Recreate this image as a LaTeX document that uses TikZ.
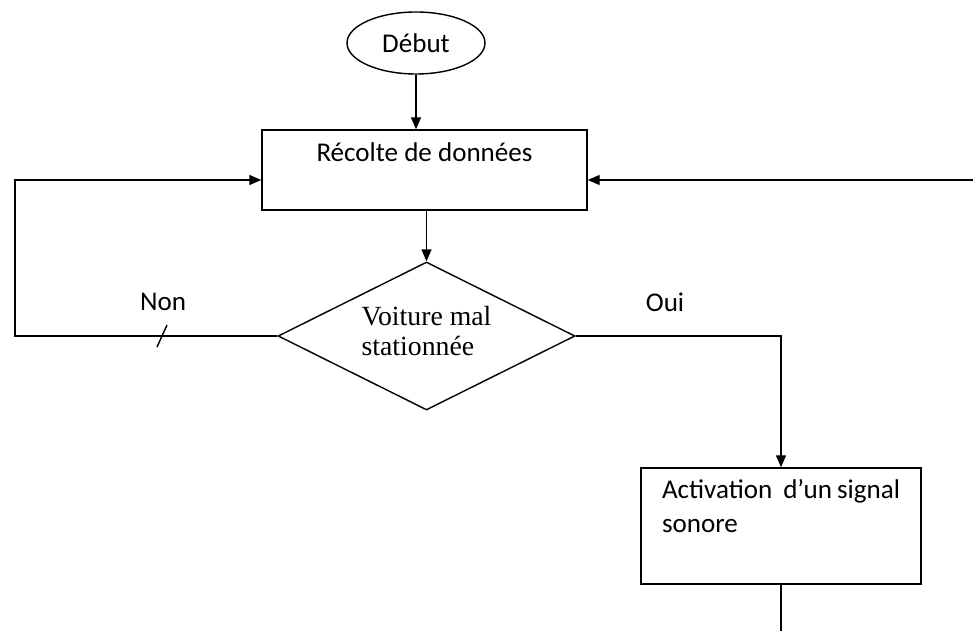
\documentclass[tikz,border=0pt]{standalone}
\usepackage{fontspec}
\setmainfont{Carlito}
\newfontfamily\timesfont{Liberation Serif}
\usetikzlibrary{shapes.geometric,arrows.meta}

\begin{document}
\begin{tikzpicture}[
  line width=0.8pt,
  fleche/.style={-{Triangle[length=0.24cm,width=0.2cm]}},
  debutbox/.style={draw, ellipse, inner sep=0pt, minimum width=2.76cm,
    minimum height=1.24cm, font=\fontsize{15.4}{18}\selectfont},
  tachebox/.style={draw, rectangle, inner sep=0pt, font=\fontsize{15.4}{19.4}\selectfont},
  testbox/.style={draw, diamond, aspect=2, inner sep=0pt, minimum width=5.94cm,
    minimum height=2.96cm, align=left, text height=0.98cm, text depth=0.22cm,
    font=\timesfont\fontsize{15.8}{17}\selectfont},
  etiquette/.style={font=\fontsize{15.4}{18}\selectfont}
]
\useasboundingbox (0,0) rectangle (19.46,-12.62);

\node[debutbox] (debut) at (8.32,-0.86) {Début};
\node[tachebox, minimum width=6.5cm, text height=0.64cm, text depth=0.96cm]
  (recolte) at (8.49,-3.4) {Récolte de données};
\node[testbox] (decision) at (8.53,-6.72) {Voiture mal\\stationnée};
\node[tachebox, inner xsep=0.42cm, text width=4.76cm, align=left,
  text height=0.6cm, text depth=1.72cm]
  (activation) at (15.62,-10.52)
  {\mbox{Activation\hspace{0.22cm}d’un\hspace{0.1cm}signal}\\sonore};

\coordinate (gauche) at (0.3,-6.72);
\coordinate (droite) at (19.46,-3.6);
\coordinate (bas) at (15.62,-12.62);

\draw[fleche] (debut.south) -- (debut.south |- recolte.north);
\draw[fleche] (recolte.south -| decision.north) -- (decision.north);
\draw[fleche] (decision.west) -- (decision.west -| gauche) |- ([yshift=-0.2cm]recolte.west);
\draw[fleche] (droite) -- (droite -| recolte.east);
\draw[fleche] (decision.east) -| (activation.north);
\draw (activation.south) -- (activation.south |- bas);

% coupure sur la branche Non
\draw (3.14,-6.94) -- (3.34,-6.5);

\node[etiquette] (non) at (3.26,-6.04) {Non};
\node[etiquette] (oui) at (13.3,-6.04) {Oui};

\end{tikzpicture}
\end{document}
